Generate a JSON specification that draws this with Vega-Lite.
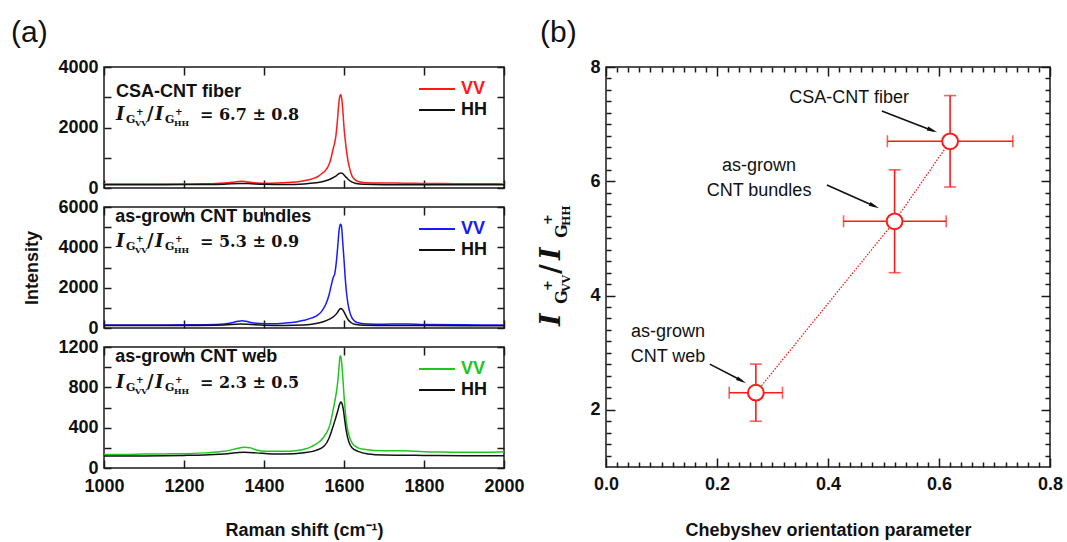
{
"$schema":"https://vega.github.io/schema/vega-lite/v6.json",
"padding":{"left":10,"top":17,"right":2,"bottom":2},
"datasets":{
"s1":[
{"w":1000,"i":135,"p":"VV"},{"w":1050,"i":132,"p":"VV"},{"w":1100,"i":133,"p":"VV"},{"w":1150,"i":130,"p":"VV"},{"w":1200,"i":132,"p":"VV"},{"w":1250,"i":140,"p":"VV"},{"w":1280,"i":150,"p":"VV"},{"w":1300,"i":165,"p":"VV"},{"w":1320,"i":190,"p":"VV"},{"w":1335,"i":215,"p":"VV"},{"w":1345,"i":225,"p":"VV"},{"w":1355,"i":210,"p":"VV"},{"w":1370,"i":180,"p":"VV"},{"w":1390,"i":160,"p":"VV"},{"w":1420,"i":160,"p":"VV"},{"w":1450,"i":175,"p":"VV"},{"w":1480,"i":200,"p":"VV"},{"w":1500,"i":240,"p":"VV"},{"w":1520,"i":300,"p":"VV"},{"w":1535,"i":380,"p":"VV"},{"w":1545,"i":480,"p":"VV"},{"w":1555,"i":600,"p":"VV"},{"w":1562,"i":760,"p":"VV"},{"w":1568,"i":1000,"p":"VV"},{"w":1572,"i":1250,"p":"VV"},{"w":1576,"i":1450,"p":"VV"},{"w":1580,"i":1750,"p":"VV"},{"w":1584,"i":2300,"p":"VV"},{"w":1587,"i":2800,"p":"VV"},{"w":1590,"i":3050,"p":"VV"},{"w":1592,"i":3080,"p":"VV"},{"w":1594,"i":2980,"p":"VV"},{"w":1596,"i":2750,"p":"VV"},{"w":1598,"i":2400,"p":"VV"},{"w":1600,"i":2000,"p":"VV"},{"w":1603,"i":1600,"p":"VV"},{"w":1606,"i":1250,"p":"VV"},{"w":1610,"i":900,"p":"VV"},{"w":1615,"i":600,"p":"VV"},{"w":1620,"i":400,"p":"VV"},{"w":1628,"i":270,"p":"VV"},{"w":1640,"i":200,"p":"VV"},{"w":1660,"i":175,"p":"VV"},{"w":1700,"i":165,"p":"VV"},{"w":1750,"i":160,"p":"VV"},{"w":1800,"i":150,"p":"VV"},{"w":1850,"i":145,"p":"VV"},{"w":1900,"i":140,"p":"VV"},{"w":1950,"i":138,"p":"VV"},{"w":2000,"i":135,"p":"VV"},
{"w":1000,"i":110,"p":"HH"},{"w":1100,"i":110,"p":"HH"},{"w":1200,"i":112,"p":"HH"},{"w":1300,"i":125,"p":"HH"},{"w":1340,"i":150,"p":"HH"},{"w":1360,"i":145,"p":"HH"},{"w":1400,"i":120,"p":"HH"},{"w":1450,"i":118,"p":"HH"},{"w":1500,"i":135,"p":"HH"},{"w":1530,"i":170,"p":"HH"},{"w":1550,"i":220,"p":"HH"},{"w":1565,"i":290,"p":"HH"},{"w":1575,"i":360,"p":"HH"},{"w":1582,"i":420,"p":"HH"},{"w":1588,"i":480,"p":"HH"},{"w":1592,"i":500,"p":"HH"},{"w":1596,"i":480,"p":"HH"},{"w":1600,"i":430,"p":"HH"},{"w":1605,"i":360,"p":"HH"},{"w":1610,"i":290,"p":"HH"},{"w":1618,"i":210,"p":"HH"},{"w":1630,"i":150,"p":"HH"},{"w":1650,"i":120,"p":"HH"},{"w":1700,"i":110,"p":"HH"},{"w":1800,"i":108,"p":"HH"},{"w":1900,"i":105,"p":"HH"},{"w":2000,"i":105,"p":"HH"}
],
"s2":[
{"w":1000,"i":150,"p":"VV"},{"w":1100,"i":150,"p":"VV"},{"w":1200,"i":155,"p":"VV"},{"w":1250,"i":165,"p":"VV"},{"w":1300,"i":200,"p":"VV"},{"w":1320,"i":260,"p":"VV"},{"w":1335,"i":330,"p":"VV"},{"w":1345,"i":360,"p":"VV"},{"w":1355,"i":330,"p":"VV"},{"w":1370,"i":260,"p":"VV"},{"w":1390,"i":220,"p":"VV"},{"w":1420,"i":210,"p":"VV"},{"w":1450,"i":240,"p":"VV"},{"w":1480,"i":300,"p":"VV"},{"w":1500,"i":380,"p":"VV"},{"w":1520,"i":500,"p":"VV"},{"w":1535,"i":650,"p":"VV"},{"w":1545,"i":850,"p":"VV"},{"w":1555,"i":1200,"p":"VV"},{"w":1562,"i":1600,"p":"VV"},{"w":1568,"i":2100,"p":"VV"},{"w":1573,"i":2500,"p":"VV"},{"w":1577,"i":2700,"p":"VV"},{"w":1581,"i":3300,"p":"VV"},{"w":1585,"i":4200,"p":"VV"},{"w":1588,"i":4900,"p":"VV"},{"w":1591,"i":5150,"p":"VV"},{"w":1593,"i":5100,"p":"VV"},{"w":1595,"i":4800,"p":"VV"},{"w":1597,"i":4200,"p":"VV"},{"w":1600,"i":3400,"p":"VV"},{"w":1603,"i":2500,"p":"VV"},{"w":1606,"i":1800,"p":"VV"},{"w":1610,"i":1200,"p":"VV"},{"w":1615,"i":750,"p":"VV"},{"w":1620,"i":500,"p":"VV"},{"w":1628,"i":320,"p":"VV"},{"w":1640,"i":240,"p":"VV"},{"w":1660,"i":200,"p":"VV"},{"w":1700,"i":190,"p":"VV"},{"w":1740,"i":200,"p":"VV"},{"w":1760,"i":195,"p":"VV"},{"w":1800,"i":175,"p":"VV"},{"w":1900,"i":160,"p":"VV"},{"w":2000,"i":150,"p":"VV"},
{"w":1000,"i":120,"p":"HH"},{"w":1100,"i":120,"p":"HH"},{"w":1200,"i":125,"p":"HH"},{"w":1300,"i":150,"p":"HH"},{"w":1340,"i":200,"p":"HH"},{"w":1360,"i":190,"p":"HH"},{"w":1400,"i":140,"p":"HH"},{"w":1450,"i":130,"p":"HH"},{"w":1500,"i":150,"p":"HH"},{"w":1530,"i":220,"p":"HH"},{"w":1550,"i":320,"p":"HH"},{"w":1565,"i":450,"p":"HH"},{"w":1575,"i":580,"p":"HH"},{"w":1583,"i":750,"p":"HH"},{"w":1588,"i":900,"p":"HH"},{"w":1592,"i":970,"p":"HH"},{"w":1596,"i":920,"p":"HH"},{"w":1600,"i":800,"p":"HH"},{"w":1605,"i":600,"p":"HH"},{"w":1610,"i":420,"p":"HH"},{"w":1618,"i":260,"p":"HH"},{"w":1630,"i":170,"p":"HH"},{"w":1650,"i":135,"p":"HH"},{"w":1700,"i":125,"p":"HH"},{"w":1800,"i":120,"p":"HH"},{"w":2000,"i":115,"p":"HH"}
],
"s3":[
{"w":1000,"i":135,"p":"VV"},{"w":1050,"i":135,"p":"VV"},{"w":1100,"i":138,"p":"VV"},{"w":1150,"i":140,"p":"VV"},{"w":1200,"i":142,"p":"VV"},{"w":1250,"i":150,"p":"VV"},{"w":1300,"i":165,"p":"VV"},{"w":1330,"i":190,"p":"VV"},{"w":1350,"i":205,"p":"VV"},{"w":1365,"i":200,"p":"VV"},{"w":1380,"i":180,"p":"VV"},{"w":1400,"i":165,"p":"VV"},{"w":1450,"i":165,"p":"VV"},{"w":1480,"i":172,"p":"VV"},{"w":1500,"i":185,"p":"VV"},{"w":1520,"i":215,"p":"VV"},{"w":1540,"i":265,"p":"VV"},{"w":1555,"i":340,"p":"VV"},{"w":1565,"i":430,"p":"VV"},{"w":1572,"i":560,"p":"VV"},{"w":1578,"i":680,"p":"VV"},{"w":1582,"i":780,"p":"VV"},{"w":1585,"i":880,"p":"VV"},{"w":1588,"i":1020,"p":"VV"},{"w":1590,"i":1110,"p":"VV"},{"w":1592,"i":1110,"p":"VV"},{"w":1594,"i":1050,"p":"VV"},{"w":1597,"i":900,"p":"VV"},{"w":1600,"i":720,"p":"VV"},{"w":1603,"i":570,"p":"VV"},{"w":1607,"i":430,"p":"VV"},{"w":1612,"i":330,"p":"VV"},{"w":1620,"i":250,"p":"VV"},{"w":1635,"i":200,"p":"VV"},{"w":1650,"i":185,"p":"VV"},{"w":1700,"i":170,"p":"VV"},{"w":1750,"i":172,"p":"VV"},{"w":1800,"i":162,"p":"VV"},{"w":1850,"i":158,"p":"VV"},{"w":1900,"i":155,"p":"VV"},{"w":1950,"i":155,"p":"VV"},{"w":2000,"i":160,"p":"VV"},
{"w":1000,"i":118,"p":"HH"},{"w":1100,"i":120,"p":"HH"},{"w":1200,"i":125,"p":"HH"},{"w":1250,"i":130,"p":"HH"},{"w":1300,"i":140,"p":"HH"},{"w":1350,"i":155,"p":"HH"},{"w":1380,"i":150,"p":"HH"},{"w":1420,"i":140,"p":"HH"},{"w":1450,"i":140,"p":"HH"},{"w":1500,"i":152,"p":"HH"},{"w":1530,"i":175,"p":"HH"},{"w":1550,"i":215,"p":"HH"},{"w":1562,"i":290,"p":"HH"},{"w":1570,"i":380,"p":"HH"},{"w":1578,"i":480,"p":"HH"},{"w":1584,"i":560,"p":"HH"},{"w":1588,"i":620,"p":"HH"},{"w":1592,"i":655,"p":"HH"},{"w":1595,"i":640,"p":"HH"},{"w":1598,"i":590,"p":"HH"},{"w":1602,"i":470,"p":"HH"},{"w":1606,"i":360,"p":"HH"},{"w":1612,"i":260,"p":"HH"},{"w":1620,"i":200,"p":"HH"},{"w":1635,"i":165,"p":"HH"},{"w":1660,"i":140,"p":"HH"},{"w":1700,"i":130,"p":"HH"},{"w":1800,"i":125,"p":"HH"},{"w":1900,"i":122,"p":"HH"},{"w":2000,"i":122,"p":"HH"}
],
"pts":[
{"sample":"as-grown CNT web","x":0.27,"y":2.3,"xlo":0.222,"xhi":0.318,"ylo":1.8,"yhi":2.8},
{"sample":"as-grown CNT bundles","x":0.52,"y":5.3,"xlo":0.428,"xhi":0.613,"ylo":4.4,"yhi":6.2},
{"sample":"CSA-CNT fiber","x":0.62,"y":6.7,"xlo":0.507,"xhi":0.733,"ylo":5.9,"yhi":7.5}
]
},
"hconcat":[
{"vconcat":[
{"width":400,"height":121,
"title":{"text":"(a)","anchor":"start","frame":"group","dx":-93,"fontSize":30,"fontWeight":"normal","font":"Liberation Sans","color":"#111111","offset":10},
"layer":[
{"data":{"name":"s1"},"mark":{"type":"line","strokeWidth":1.5,"interpolate":"monotone"},
"encoding":{
"x":{"field":"w","type":"quantitative","scale":{"domain":[1000,2000],"nice":false,"zero":false},"axis":{"orient":"bottom","values":[1000,1200,1400,1600,1800,2000],"labels":false,"tickSize":-8,"title":null}},
"y":{"field":"i","type":"quantitative","scale":{"domain":[0,4000],"nice":false},"axis":{"orient":"left","values":[0,1000,2000,3000,4000],"format":"d","labelExpr":"datum.value % 2000 === 0 ? datum.label : ''","tickSize":-7,"labelPadding":13,"title":null}},
"color":{"field":"p","type":"nominal","scale":{"domain":["VV","HH"],"range":["#ff1a1a","#111111"]},"legend":{"title":null,"orient":"none","legendX":323,"legendY":12,"symbolType":"M-2,0H2","symbolSize":324,"symbolStrokeWidth":2,"labelFontSize":18,"labelFontWeight":"bold","labelFont":"Liberation Sans","labelOffset":14,"rowPadding":2,"padding":0,"encode":{"labels":{"update":{"fill":{"signal":"datum.label === 'VV' ? '#ff1a1a' : '#111111'"}}}}}}
}},
{"data":{"name":"s1"},"mark":{"type":"line","opacity":0},
"encoding":{
"x":{"field":"w","type":"quantitative","axis":{"orient":"top","values":[1000,1200,1400,1600,1800,2000],"labels":false,"tickSize":-8,"title":null}},
"y":{"field":"i","type":"quantitative","axis":{"orient":"right","values":[0,1000,2000,3000,4000],"labels":false,"tickSize":-7,"title":null}}}},
{"data":{"values":[{}]},"mark":{"type":"text","text":"CSA-CNT fiber","font":"Liberation Sans","fontWeight":"bold","fontSize":18,"align":"left","baseline":"alphabetic","color":"#111111"},"encoding":{"x":{"datum":1030,"type":"quantitative","axis":null},"y":{"datum":3000,"type":"quantitative","axis":null}}},
{"data":{"values":[{}]},"mark":{"type":"text","text":"I","font":"DejaVu Serif","fontStyle":"italic","fontWeight":"bold","fontSize":18,"align":"left","baseline":"alphabetic","color":"#111111","dx":0},"encoding":{"x":{"datum":1030,"type":"quantitative","axis":null},"y":{"datum":2250,"type":"quantitative","axis":null}}},
{"data":{"values":[{}]},"mark":{"type":"text","text":"G","font":"DejaVu Serif","fontWeight":"bold","fontSize":11,"align":"left","baseline":"alphabetic","color":"#111111","dx":10,"dy":3},"encoding":{"x":{"datum":1030,"type":"quantitative","axis":null},"y":{"datum":2250,"type":"quantitative","axis":null}}},
{"data":{"values":[{}]},"mark":{"type":"text","text":"+","font":"DejaVu Serif","fontWeight":"bold","fontSize":9,"align":"left","baseline":"alphabetic","color":"#111111","dx":20,"dy":-5},"encoding":{"x":{"datum":1030,"type":"quantitative","axis":null},"y":{"datum":2250,"type":"quantitative","axis":null}}},
{"data":{"values":[{}]},"mark":{"type":"text","text":"VV","font":"DejaVu Serif","fontWeight":"bold","fontSize":8,"align":"left","baseline":"alphabetic","color":"#111111","dx":19,"dy":6},"encoding":{"x":{"datum":1030,"type":"quantitative","axis":null},"y":{"datum":2250,"type":"quantitative","axis":null}}},
{"data":{"values":[{}]},"mark":{"type":"text","text":"/","font":"DejaVu Serif","fontWeight":"bold","fontSize":18,"align":"left","baseline":"alphabetic","color":"#111111","dx":31},"encoding":{"x":{"datum":1030,"type":"quantitative","axis":null},"y":{"datum":2250,"type":"quantitative","axis":null}}},
{"data":{"values":[{}]},"mark":{"type":"text","text":"I","font":"DejaVu Serif","fontStyle":"italic","fontWeight":"bold","fontSize":18,"align":"left","baseline":"alphabetic","color":"#111111","dx":39},"encoding":{"x":{"datum":1030,"type":"quantitative","axis":null},"y":{"datum":2250,"type":"quantitative","axis":null}}},
{"data":{"values":[{}]},"mark":{"type":"text","text":"G","font":"DejaVu Serif","fontWeight":"bold","fontSize":11,"align":"left","baseline":"alphabetic","color":"#111111","dx":49,"dy":3},"encoding":{"x":{"datum":1030,"type":"quantitative","axis":null},"y":{"datum":2250,"type":"quantitative","axis":null}}},
{"data":{"values":[{}]},"mark":{"type":"text","text":"+","font":"DejaVu Serif","fontWeight":"bold","fontSize":9,"align":"left","baseline":"alphabetic","color":"#111111","dx":59,"dy":-5},"encoding":{"x":{"datum":1030,"type":"quantitative","axis":null},"y":{"datum":2250,"type":"quantitative","axis":null}}},
{"data":{"values":[{}]},"mark":{"type":"text","text":"HH","font":"DejaVu Serif","fontWeight":"bold","fontSize":8,"align":"left","baseline":"alphabetic","color":"#111111","dx":58,"dy":6},"encoding":{"x":{"datum":1030,"type":"quantitative","axis":null},"y":{"datum":2250,"type":"quantitative","axis":null}}},
{"data":{"values":[{}]},"mark":{"type":"text","text":"= 6.7 ± 0.8","font":"DejaVu Serif","fontWeight":"bold","fontSize":16,"align":"left","baseline":"alphabetic","color":"#111111","dx":84},"encoding":{"x":{"datum":1030,"type":"quantitative","axis":null},"y":{"datum":2250,"type":"quantitative","axis":null}}}
],
"resolve":{"axis":{"x":"independent","y":"independent"}}},
{"width":400,"height":121,
"layer":[
{"data":{"name":"s2"},"mark":{"type":"line","strokeWidth":1.5,"interpolate":"monotone"},
"encoding":{
"x":{"field":"w","type":"quantitative","scale":{"domain":[1000,2000],"nice":false,"zero":false},"axis":{"orient":"bottom","values":[1000,1200,1400,1600,1800,2000],"labels":false,"tickSize":-8,"title":null}},
"y":{"field":"i","type":"quantitative","scale":{"domain":[0,6000],"nice":false},"axis":{"orient":"left","values":[0,1000,2000,3000,4000,5000,6000],"format":"d","labelExpr":"datum.value % 2000 === 0 ? datum.label : ''","tickSize":-7,"labelPadding":13,"title":"Intensity","titlePadding":16}},
"color":{"field":"p","type":"nominal","scale":{"domain":["VV","HH"],"range":["#1a1aff","#111111"]},"legend":{"title":null,"orient":"none","legendX":323,"legendY":12,"symbolType":"M-2,0H2","symbolSize":324,"symbolStrokeWidth":2,"labelFontSize":18,"labelFontWeight":"bold","labelFont":"Liberation Sans","labelOffset":14,"rowPadding":2,"padding":0,"encode":{"labels":{"update":{"fill":{"signal":"datum.label === 'VV' ? '#1a1aff' : '#111111'"}}}}}}
}},
{"data":{"name":"s2"},"mark":{"type":"line","opacity":0},
"encoding":{
"x":{"field":"w","type":"quantitative","axis":{"orient":"top","values":[1000,1200,1400,1600,1800,2000],"labels":false,"tickSize":-8,"title":null}},
"y":{"field":"i","type":"quantitative","axis":{"orient":"right","values":[0,1000,2000,3000,4000,5000,6000],"labels":false,"tickSize":-7,"title":null}}}},
{"data":{"values":[{}]},"mark":{"type":"text","text":"as-grown CNT bundles","font":"Liberation Sans","fontWeight":"bold","fontSize":18,"align":"left","baseline":"alphabetic","color":"#111111"},"encoding":{"x":{"datum":1028,"type":"quantitative","axis":null},"y":{"datum":5260,"type":"quantitative","axis":null}}},
{"data":{"values":[{}]},"mark":{"type":"text","text":"I","font":"DejaVu Serif","fontStyle":"italic","fontWeight":"bold","fontSize":18,"align":"left","baseline":"alphabetic","color":"#111111","dx":0},"encoding":{"x":{"datum":1030,"type":"quantitative","axis":null},"y":{"datum":4000,"type":"quantitative","axis":null}}},
{"data":{"values":[{}]},"mark":{"type":"text","text":"G","font":"DejaVu Serif","fontWeight":"bold","fontSize":11,"align":"left","baseline":"alphabetic","color":"#111111","dx":10,"dy":3},"encoding":{"x":{"datum":1030,"type":"quantitative","axis":null},"y":{"datum":4000,"type":"quantitative","axis":null}}},
{"data":{"values":[{}]},"mark":{"type":"text","text":"+","font":"DejaVu Serif","fontWeight":"bold","fontSize":9,"align":"left","baseline":"alphabetic","color":"#111111","dx":20,"dy":-5},"encoding":{"x":{"datum":1030,"type":"quantitative","axis":null},"y":{"datum":4000,"type":"quantitative","axis":null}}},
{"data":{"values":[{}]},"mark":{"type":"text","text":"VV","font":"DejaVu Serif","fontWeight":"bold","fontSize":8,"align":"left","baseline":"alphabetic","color":"#111111","dx":19,"dy":6},"encoding":{"x":{"datum":1030,"type":"quantitative","axis":null},"y":{"datum":4000,"type":"quantitative","axis":null}}},
{"data":{"values":[{}]},"mark":{"type":"text","text":"/","font":"DejaVu Serif","fontWeight":"bold","fontSize":18,"align":"left","baseline":"alphabetic","color":"#111111","dx":31},"encoding":{"x":{"datum":1030,"type":"quantitative","axis":null},"y":{"datum":4000,"type":"quantitative","axis":null}}},
{"data":{"values":[{}]},"mark":{"type":"text","text":"I","font":"DejaVu Serif","fontStyle":"italic","fontWeight":"bold","fontSize":18,"align":"left","baseline":"alphabetic","color":"#111111","dx":39},"encoding":{"x":{"datum":1030,"type":"quantitative","axis":null},"y":{"datum":4000,"type":"quantitative","axis":null}}},
{"data":{"values":[{}]},"mark":{"type":"text","text":"G","font":"DejaVu Serif","fontWeight":"bold","fontSize":11,"align":"left","baseline":"alphabetic","color":"#111111","dx":49,"dy":3},"encoding":{"x":{"datum":1030,"type":"quantitative","axis":null},"y":{"datum":4000,"type":"quantitative","axis":null}}},
{"data":{"values":[{}]},"mark":{"type":"text","text":"+","font":"DejaVu Serif","fontWeight":"bold","fontSize":9,"align":"left","baseline":"alphabetic","color":"#111111","dx":59,"dy":-5},"encoding":{"x":{"datum":1030,"type":"quantitative","axis":null},"y":{"datum":4000,"type":"quantitative","axis":null}}},
{"data":{"values":[{}]},"mark":{"type":"text","text":"HH","font":"DejaVu Serif","fontWeight":"bold","fontSize":8,"align":"left","baseline":"alphabetic","color":"#111111","dx":58,"dy":6},"encoding":{"x":{"datum":1030,"type":"quantitative","axis":null},"y":{"datum":4000,"type":"quantitative","axis":null}}},
{"data":{"values":[{}]},"mark":{"type":"text","text":"= 5.3 ± 0.9","font":"DejaVu Serif","fontWeight":"bold","fontSize":16,"align":"left","baseline":"alphabetic","color":"#111111","dx":84},"encoding":{"x":{"datum":1030,"type":"quantitative","axis":null},"y":{"datum":4000,"type":"quantitative","axis":null}}}
],
"resolve":{"axis":{"x":"independent","y":"independent"}}},
{"width":400,"height":121,
"layer":[
{"data":{"name":"s3"},"mark":{"type":"line","strokeWidth":1.5,"interpolate":"monotone"},
"encoding":{
"x":{"field":"w","type":"quantitative","scale":{"domain":[1000,2000],"nice":false,"zero":false},"axis":{"orient":"bottom","values":[1000,1200,1400,1600,1800,2000],"format":"d","tickSize":-8,"labelPadding":17,"title":"Raman shift (cm⁻¹)","titlePadding":26}},
"y":{"field":"i","type":"quantitative","scale":{"domain":[0,1200],"nice":false},"axis":{"orient":"left","values":[0,200,400,600,800,1000,1200],"format":"d","labelExpr":"datum.value % 400 === 0 ? datum.label : ''","tickSize":-7,"labelPadding":13,"title":null}},
"color":{"field":"p","type":"nominal","scale":{"domain":["VV","HH"],"range":["#22c422","#111111"]},"legend":{"title":null,"orient":"none","legendX":323,"legendY":12,"symbolType":"M-2,0H2","symbolSize":324,"symbolStrokeWidth":2,"labelFontSize":18,"labelFontWeight":"bold","labelFont":"Liberation Sans","labelOffset":14,"rowPadding":2,"padding":0,"encode":{"labels":{"update":{"fill":{"signal":"datum.label === 'VV' ? '#22c422' : '#111111'"}}}}}}
}},
{"data":{"name":"s3"},"mark":{"type":"line","opacity":0},
"encoding":{
"x":{"field":"w","type":"quantitative","axis":{"orient":"top","values":[1000,1200,1400,1600,1800,2000],"labels":false,"tickSize":-8,"title":null}},
"y":{"field":"i","type":"quantitative","axis":{"orient":"right","values":[0,200,400,600,800,1000,1200],"labels":false,"tickSize":-7,"title":null}}}},
{"data":{"values":[{}]},"mark":{"type":"text","text":"as-grown CNT web","font":"Liberation Sans","fontWeight":"bold","fontSize":18,"align":"left","baseline":"alphabetic","color":"#111111"},"encoding":{"x":{"datum":1028,"type":"quantitative","axis":null},"y":{"datum":1050,"type":"quantitative","axis":null}}},
{"data":{"values":[{}]},"mark":{"type":"text","text":"I","font":"DejaVu Serif","fontStyle":"italic","fontWeight":"bold","fontSize":18,"align":"left","baseline":"alphabetic","color":"#111111","dx":0},"encoding":{"x":{"datum":1030,"type":"quantitative","axis":null},"y":{"datum":790,"type":"quantitative","axis":null}}},
{"data":{"values":[{}]},"mark":{"type":"text","text":"G","font":"DejaVu Serif","fontWeight":"bold","fontSize":11,"align":"left","baseline":"alphabetic","color":"#111111","dx":10,"dy":3},"encoding":{"x":{"datum":1030,"type":"quantitative","axis":null},"y":{"datum":790,"type":"quantitative","axis":null}}},
{"data":{"values":[{}]},"mark":{"type":"text","text":"+","font":"DejaVu Serif","fontWeight":"bold","fontSize":9,"align":"left","baseline":"alphabetic","color":"#111111","dx":20,"dy":-5},"encoding":{"x":{"datum":1030,"type":"quantitative","axis":null},"y":{"datum":790,"type":"quantitative","axis":null}}},
{"data":{"values":[{}]},"mark":{"type":"text","text":"VV","font":"DejaVu Serif","fontWeight":"bold","fontSize":8,"align":"left","baseline":"alphabetic","color":"#111111","dx":19,"dy":6},"encoding":{"x":{"datum":1030,"type":"quantitative","axis":null},"y":{"datum":790,"type":"quantitative","axis":null}}},
{"data":{"values":[{}]},"mark":{"type":"text","text":"/","font":"DejaVu Serif","fontWeight":"bold","fontSize":18,"align":"left","baseline":"alphabetic","color":"#111111","dx":31},"encoding":{"x":{"datum":1030,"type":"quantitative","axis":null},"y":{"datum":790,"type":"quantitative","axis":null}}},
{"data":{"values":[{}]},"mark":{"type":"text","text":"I","font":"DejaVu Serif","fontStyle":"italic","fontWeight":"bold","fontSize":18,"align":"left","baseline":"alphabetic","color":"#111111","dx":39},"encoding":{"x":{"datum":1030,"type":"quantitative","axis":null},"y":{"datum":790,"type":"quantitative","axis":null}}},
{"data":{"values":[{}]},"mark":{"type":"text","text":"G","font":"DejaVu Serif","fontWeight":"bold","fontSize":11,"align":"left","baseline":"alphabetic","color":"#111111","dx":49,"dy":3},"encoding":{"x":{"datum":1030,"type":"quantitative","axis":null},"y":{"datum":790,"type":"quantitative","axis":null}}},
{"data":{"values":[{}]},"mark":{"type":"text","text":"+","font":"DejaVu Serif","fontWeight":"bold","fontSize":9,"align":"left","baseline":"alphabetic","color":"#111111","dx":59,"dy":-5},"encoding":{"x":{"datum":1030,"type":"quantitative","axis":null},"y":{"datum":790,"type":"quantitative","axis":null}}},
{"data":{"values":[{}]},"mark":{"type":"text","text":"HH","font":"DejaVu Serif","fontWeight":"bold","fontSize":8,"align":"left","baseline":"alphabetic","color":"#111111","dx":58,"dy":6},"encoding":{"x":{"datum":1030,"type":"quantitative","axis":null},"y":{"datum":790,"type":"quantitative","axis":null}}},
{"data":{"values":[{}]},"mark":{"type":"text","text":"= 2.3 ± 0.5","font":"DejaVu Serif","fontWeight":"bold","fontSize":16,"align":"left","baseline":"alphabetic","color":"#111111","dx":84},"encoding":{"x":{"datum":1030,"type":"quantitative","axis":null},"y":{"datum":790,"type":"quantitative","axis":null}}}
],
"resolve":{"axis":{"x":"independent","y":"independent"}}}
],
"spacing":19,"bounds":"flush",
"resolve":{"scale":{"x":"independent","y":"independent","color":"independent"},"legend":{"color":"independent"}}},
{"width":444,"height":400,
"title":{"text":"(b)","anchor":"start","frame":"group","dx":-66,"fontSize":30,"fontWeight":"normal","font":"Liberation Sans","color":"#111111","offset":10},
"layer":[
{"data":{"name":"pts"},"mark":{"type":"line","color":"#ff1a1a","strokeWidth":1.3,"strokeDash":[1.5,1.5]},
"encoding":{
"x":{"field":"x","type":"quantitative","scale":{"domain":[0,0.8],"nice":false,"zero":false},"axis":{"orient":"bottom","values":[0,0.2,0.4,0.6,0.8],"format":".1f","tickSize":-9,"labelPadding":17,"title":"Chebyshev orientation parameter","titlePadding":28}},
"y":{"field":"y","type":"quantitative","scale":{"domain":[1,8],"nice":false,"zero":false},"axis":{"orient":"left","values":[2,4,6,8],"format":"d","tickSize":-9,"labelPadding":15,"title":null}}}},
{"data":{"name":"pts"},"mark":{"type":"rule","color":"#ff1a1a","strokeWidth":1.6},
"encoding":{
"x":{"field":"xlo","type":"quantitative","axis":{"orient":"top","values":[0,0.2,0.4,0.6,0.8],"labels":false,"tickSize":-9,"title":null}},
"x2":{"field":"xhi"},
"y":{"field":"y","type":"quantitative","axis":{"orient":"right","values":[2,4,6,8],"labels":false,"tickSize":-9,"title":null}}}},
{"data":{"name":"pts"},"mark":{"type":"rule","color":"#ff1a1a","strokeWidth":1.6},
"encoding":{
"x":{"field":"x","type":"quantitative","axis":{"orient":"bottom","values":[0.02,0.04,0.06,0.08,0.1,0.12,0.14,0.16,0.18,0.22,0.24,0.26,0.28,0.3,0.32,0.34,0.36,0.38,0.42,0.44,0.46,0.48,0.5,0.52,0.54,0.56,0.58,0.62,0.64,0.66,0.68,0.7,0.72,0.74,0.76,0.78],"labels":false,"tickSize":-5,"title":null}},
"y":{"field":"ylo","type":"quantitative","axis":{"orient":"left","values":[1.2,1.4,1.6,1.8,2.2,2.4,2.6,2.8,3,3.2,3.4,3.6,3.8,4.2,4.4,4.6,4.8,5,5.2,5.4,5.6,5.8,6.2,6.4,6.6,6.8,7,7.2,7.4,7.6,7.8],"labels":false,"tickSize":-5,"title":null}},
"y2":{"field":"yhi"}}},
{"data":{"name":"pts"},"mark":{"type":"tick","orient":"vertical","color":"#ff1a1a","size":12,"thickness":1.6},
"encoding":{
"x":{"field":"xlo","type":"quantitative","axis":{"orient":"top","values":[0.02,0.04,0.06,0.08,0.1,0.12,0.14,0.16,0.18,0.22,0.24,0.26,0.28,0.3,0.32,0.34,0.36,0.38,0.42,0.44,0.46,0.48,0.5,0.52,0.54,0.56,0.58,0.62,0.64,0.66,0.68,0.7,0.72,0.74,0.76,0.78],"labels":false,"tickSize":-5,"title":null}},
"y":{"field":"y","type":"quantitative","axis":{"orient":"right","values":[1.2,1.4,1.6,1.8,2.2,2.4,2.6,2.8,3,3.2,3.4,3.6,3.8,4.2,4.4,4.6,4.8,5,5.2,5.4,5.6,5.8,6.2,6.4,6.6,6.8,7,7.2,7.4,7.6,7.8],"labels":false,"tickSize":-5,"title":null}}}},
{"data":{"name":"pts"},"mark":{"type":"tick","orient":"vertical","color":"#ff1a1a","size":12,"thickness":1.6},
"encoding":{"x":{"field":"xhi","type":"quantitative","axis":null},"y":{"field":"y","type":"quantitative","axis":null}}},
{"data":{"name":"pts"},"mark":{"type":"tick","orient":"horizontal","color":"#ff1a1a","size":12,"thickness":1.6},
"encoding":{"x":{"field":"x","type":"quantitative","axis":null},"y":{"field":"ylo","type":"quantitative","axis":null}}},
{"data":{"name":"pts"},"mark":{"type":"tick","orient":"horizontal","color":"#ff1a1a","size":12,"thickness":1.6},
"encoding":{"x":{"field":"x","type":"quantitative","axis":null},"y":{"field":"yhi","type":"quantitative","axis":null}}},
{"data":{"name":"pts"},"mark":{"type":"point","shape":"circle","filled":true,"fill":"#ffffff","stroke":"#ff1a1a","strokeWidth":2,"size":250,"opacity":1},
"encoding":{"x":{"field":"x","type":"quantitative","axis":null},"y":{"field":"y","type":"quantitative","axis":null}}},
{"data":{"values":[{}]},"mark":{"type":"text","text":"CSA-CNT fiber","font":"Liberation Sans","fontSize":18,"align":"center","baseline":"alphabetic","color":"#111111"},"encoding":{"x":{"datum":0.438,"type":"quantitative","axis":null},"y":{"datum":7.37,"type":"quantitative","axis":null}}},
{"data":{"values":[{}]},"mark":{"type":"text","text":"as-grown\nCNT bundles","lineBreak":"\n","lineHeight":25,"font":"Liberation Sans","fontSize":18,"align":"center","baseline":"alphabetic","color":"#111111"},"encoding":{"x":{"datum":0.2757,"type":"quantitative","axis":null},"y":{"datum":6.18,"type":"quantitative","axis":null}}},
{"data":{"values":[{}]},"mark":{"type":"text","text":"as-grown\nCNT web","lineBreak":"\n","lineHeight":25,"font":"Liberation Sans","fontSize":18,"align":"center","baseline":"alphabetic","color":"#111111"},"encoding":{"x":{"datum":0.1117,"type":"quantitative","axis":null},"y":{"datum":3.275,"type":"quantitative","axis":null}}},
{"data":{"values":[{}]},"mark":{"type":"rule","color":"#111111","strokeWidth":1.6},"encoding":{"x":{"datum":0.497,"type":"quantitative","axis":null},"y":{"datum":7.23,"type":"quantitative","axis":null},"x2":{"datum":0.59},"y2":{"datum":6.88}}},
{"data":{"values":[{}]},"mark":{"type":"point","shape":"M-1,-0.4L1,0L-1,0.4Z","filled":true,"color":"#111111","size":110,"angle":21,"opacity":1},"encoding":{"x":{"datum":0.588,"type":"quantitative","axis":null},"y":{"datum":6.89,"type":"quantitative","axis":null}}},
{"data":{"values":[{}]},"mark":{"type":"rule","color":"#111111","strokeWidth":1.6},"encoding":{"x":{"datum":0.398,"type":"quantitative","axis":null},"y":{"datum":5.935,"type":"quantitative","axis":null},"x2":{"datum":0.485},"y2":{"datum":5.56}}},
{"data":{"values":[{}]},"mark":{"type":"point","shape":"M-1,-0.4L1,0L-1,0.4Z","filled":true,"color":"#111111","size":110,"angle":24,"opacity":1},"encoding":{"x":{"datum":0.4836,"type":"quantitative","axis":null},"y":{"datum":5.567,"type":"quantitative","axis":null}}},
{"data":{"values":[{}]},"mark":{"type":"rule","color":"#111111","strokeWidth":1.6},"encoding":{"x":{"datum":0.187,"type":"quantitative","axis":null},"y":{"datum":2.8,"type":"quantitative","axis":null},"x2":{"datum":0.245},"y2":{"datum":2.51}}},
{"data":{"values":[{}]},"mark":{"type":"point","shape":"M-1,-0.4L1,0L-1,0.4Z","filled":true,"color":"#111111","size":110,"angle":28,"opacity":1},"encoding":{"x":{"datum":0.2443,"type":"quantitative","axis":null},"y":{"datum":2.51,"type":"quantitative","axis":null}}},
{"data":{"values":[{}]},"mark":{"type":"text","text":"I","font":"DejaVu Serif","fontStyle":"italic","fontWeight":"bold","fontSize":27,"align":"left","baseline":"alphabetic","angle":270,"color":"#111111","dx":0},"encoding":{"x":{"datum":-0.083,"type":"quantitative","axis":null},"y":{"datum":3.467,"type":"quantitative","axis":null}}},
{"data":{"values":[{}]},"mark":{"type":"text","text":"G","font":"DejaVu Serif","fontWeight":"bold","fontSize":16,"align":"left","baseline":"alphabetic","angle":270,"color":"#111111","dx":22,"dy":7},"encoding":{"x":{"datum":-0.083,"type":"quantitative","axis":null},"y":{"datum":3.467,"type":"quantitative","axis":null}}},
{"data":{"values":[{}]},"mark":{"type":"text","text":"+","font":"DejaVu Serif","fontWeight":"bold","fontSize":13,"align":"left","baseline":"alphabetic","angle":270,"color":"#111111","dx":35,"dy":-8},"encoding":{"x":{"datum":-0.083,"type":"quantitative","axis":null},"y":{"datum":3.467,"type":"quantitative","axis":null}}},
{"data":{"values":[{}]},"mark":{"type":"text","text":"VV","font":"DejaVu Serif","fontWeight":"bold","fontSize":11,"align":"left","baseline":"alphabetic","angle":270,"color":"#111111","dx":34,"dy":10},"encoding":{"x":{"datum":-0.083,"type":"quantitative","axis":null},"y":{"datum":3.467,"type":"quantitative","axis":null}}},
{"data":{"values":[{}]},"mark":{"type":"text","text":"/","font":"DejaVu Serif","fontWeight":"bold","fontSize":27,"align":"left","baseline":"alphabetic","angle":270,"color":"#111111","dx":52},"encoding":{"x":{"datum":-0.083,"type":"quantitative","axis":null},"y":{"datum":3.467,"type":"quantitative","axis":null}}},
{"data":{"values":[{}]},"mark":{"type":"text","text":"I","font":"DejaVu Serif","fontStyle":"italic","fontWeight":"bold","fontSize":27,"align":"left","baseline":"alphabetic","angle":270,"color":"#111111","dx":66},"encoding":{"x":{"datum":-0.083,"type":"quantitative","axis":null},"y":{"datum":3.467,"type":"quantitative","axis":null}}},
{"data":{"values":[{}]},"mark":{"type":"text","text":"G","font":"DejaVu Serif","fontWeight":"bold","fontSize":16,"align":"left","baseline":"alphabetic","angle":270,"color":"#111111","dx":88,"dy":7},"encoding":{"x":{"datum":-0.083,"type":"quantitative","axis":null},"y":{"datum":3.467,"type":"quantitative","axis":null}}},
{"data":{"values":[{}]},"mark":{"type":"text","text":"+","font":"DejaVu Serif","fontWeight":"bold","fontSize":13,"align":"left","baseline":"alphabetic","angle":270,"color":"#111111","dx":101,"dy":-8},"encoding":{"x":{"datum":-0.083,"type":"quantitative","axis":null},"y":{"datum":3.467,"type":"quantitative","axis":null}}},
{"data":{"values":[{}]},"mark":{"type":"text","text":"HH","font":"DejaVu Serif","fontWeight":"bold","fontSize":11,"align":"left","baseline":"alphabetic","angle":270,"color":"#111111","dx":100,"dy":10},"encoding":{"x":{"datum":-0.083,"type":"quantitative","axis":null},"y":{"datum":3.467,"type":"quantitative","axis":null}}}
],
"resolve":{"axis":{"x":"independent","y":"independent"}}}
],
"spacing":12,
"resolve":{"scale":{"x":"independent","y":"independent","color":"independent"}},
"config":{
"font":"Liberation Sans",
"view":{"stroke":"#1a1a1a","strokeWidth":1.5},
"axis":{"grid":false,"domain":false,"tickColor":"#1a1a1a","tickWidth":1.5,"labelFont":"Liberation Sans","labelFontSize":18,"labelFontWeight":"bold","labelColor":"#111111","labelFlush":false,"labelOverlap":false,"labelBound":false,"titleFont":"Liberation Sans","titleFontSize":18,"titleFontWeight":"bold","titleColor":"#111111"}
}
}
